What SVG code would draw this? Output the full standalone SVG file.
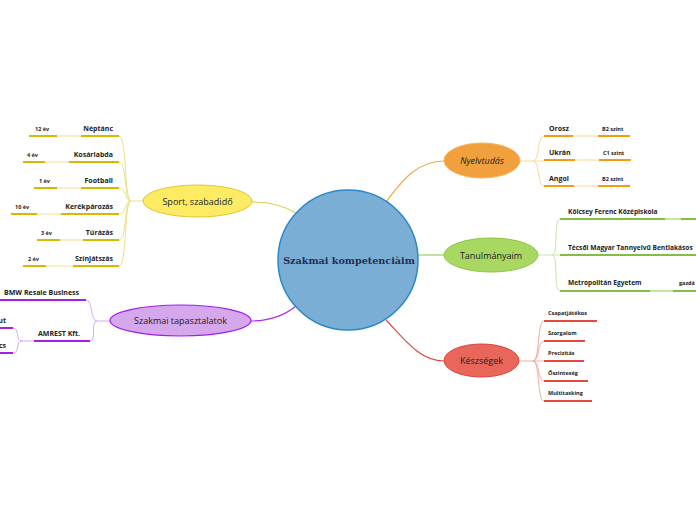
<svg xmlns="http://www.w3.org/2000/svg" width="696" height="520" viewBox="0 0 696 520">
<style>
.b{font-family:"Open Sans","Noto Sans",sans-serif;font-weight:700;fill:#222}
.c{font-size:7px}
.s{font-size:5.5px}
.k{font-size:6px}
.t{font-family:"Open Sans","Noto Sans",sans-serif;font-size:9px;fill:#222;text-anchor:middle}
.f{fill:none}
.yl{stroke:#d9b800;stroke-width:2}
.yc{stroke:#ece08a;stroke-width:1}
.ol{stroke:#f39c12;stroke-width:2}
.oc{stroke:#fcd49a;stroke-width:1}
.gl{stroke:#84bd45;stroke-width:2}
.gc{stroke:#c8e3a6;stroke-width:1}
.gc2{stroke:#c8e3a6;stroke-width:2}
.rl{stroke:#e5493d;stroke-width:2}
.rc{stroke:#f5aaa2;stroke-width:1}
.pl{stroke:#a51fe8;stroke-width:2}
.pc{stroke:#d9a8f3;stroke-width:1}
</style>
<rect width="696" height="520" fill="#fff"/>
<g id="connectors" class="f">
<path d="M252,202 C270,202 283,205 296,213" stroke="#e3cf55" stroke-width="1.2"/>
<path d="M386,202 C400,184 415,161 444,161" stroke="#f5a73c" stroke-width="1.2"/>
<path d="M418,255 L444,255" stroke="#9ccf5f" stroke-width="1.2"/>
<path d="M386,320 C405,340 420,361 444,361" stroke="#de4a3c" stroke-width="1.2"/>
<path d="M251,321 C270,321 285,315 296,306" stroke="#a52ae8" stroke-width="1.2"/>
</g>
<g id="center">
<circle cx="348" cy="260" r="70" fill="#7aaed5" stroke="#2b88c8" stroke-width="1.5"/>
<text x="349" y="264" text-anchor="middle" font-family="'DejaVu Serif','Noto Serif',serif" font-weight="700" font-size="9.6" fill="#1e2f50">Szakmai kompetenciàim</text>
</g>
<g id="sport">
<g class="f">
<path class="yc" d="M143,201 L131,201"/>
<path class="yc" d="M131,201 C124,201 127,136 119,136"/>
<path class="yc" d="M131,201 C124,201 127,162 119,162"/>
<path class="yc" d="M131,201 C124,201 127,188 119,188"/>
<path class="yc" d="M131,201 C124,201 127,214 119,214"/>
<path class="yc" d="M131,201 C124,201 127,240 119,240"/>
<path class="yc" d="M131,201 C124,201 127,266 119,266"/>
<path class="yc" d="M57,136 H81 M45,162 H69 M57,188 H81 M37,214 H61 M60,240 H83 M46,266 H73"/>
<path class="yl" d="M81,136 H119 M69,162 H119 M81,188 H119 M61,214 H119 M83,240 H119 M73,266 H119"/>
<path class="yl" d="M29,136 H57 M23,162 H45 M34,188 H57 M11,214 H37 M37,240 H60 M23,266 H46"/>
</g>
<ellipse cx="197.5" cy="201" rx="54.5" ry="16" fill="#fdeb63" stroke="#e2c62f" stroke-width="1"/>
<text class="t" x="197.5" y="204.5">Sport, szabadidő</text>
<g class="b c" text-anchor="end">
<text x="113" y="131">Néptánc</text>
<text x="113" y="157">Kosárlabda</text>
<text x="113" y="183">Football</text>
<text x="113" y="209">Kerékpározás</text>
<text x="113" y="235">Túrázás</text>
<text x="113" y="261">Színjátszás</text>
</g>
<g class="b s">
<text x="35" y="131">12 év</text>
<text x="27" y="157">4 év</text>
<text x="39" y="183">1 év</text>
<text x="15" y="209">10 év</text>
<text x="41" y="235">3 év</text>
<text x="28" y="261">2 év</text>
</g>
</g>
<g id="nyelvtudas">
<g class="f">
<path class="oc" d="M520,161 L533,161"/>
<path class="oc" d="M533,161 C540,161 537,136 544,136"/>
<path class="oc" d="M533,161 L544,161"/>
<path class="oc" d="M533,161 C540,161 537,186 544,186"/>
<path class="oc" d="M573,136 H598 M575,160 H599 M574,186 H598"/>
<path class="ol" d="M544,136 H573 M544,160 H575 M544,186 H574"/>
<path class="ol" d="M598,136 H630 M599,160 H631 M598,186 H630"/>
</g>
<ellipse cx="482" cy="160.5" rx="38" ry="17.5" fill="#f0a03c" stroke="#f7b65a" stroke-width="1"/>
<text class="t" x="482" y="164" font-style="italic">Nyelvtudás</text>
<g class="b c">
<text x="549" y="131">Orosz</text>
<text x="549" y="155">Ukrán</text>
<text x="549" y="181">Angol</text>
</g>
<g class="b s">
<text x="602" y="131">B2 szint</text>
<text x="603" y="155">C1 szint</text>
<text x="602" y="181">B2 szint</text>
</g>
</g>
<g id="tanulmanyaim">
<g class="f">
<path class="gc" d="M538,255 L552,255"/>
<path class="gc" d="M552,255 C559,255 553,219 560,219"/>
<path class="gc" d="M552,255 L560,255"/>
<path class="gc" d="M552,255 C559,255 553,291 560,291"/>
<path class="gl" d="M560,219 H665 M681,219 H696 M560,255 H696 M560,291 H650 M673,291 H696"/>
<path class="gc2" d="M665,219 H681 M650,291 H673"/>
</g>
<ellipse cx="491" cy="255" rx="47" ry="17" fill="#a9d862" stroke="#8cc63f" stroke-width="1"/>
<text class="t" x="491" y="258.5">Tanulmányaim</text>
<g class="b" font-size="6.6px">
<text x="568" y="214">Kölcsey Ferenc Középiskola</text>
<text x="568" y="250">Técsői Magyar Tannyelvű Bentlakásos</text>
<text x="568" y="285">Metropolitán Egyetem</text>
</g>
<text class="b s" x="679" y="285">gazdá</text>
</g>
<g id="keszsegek">
<g class="f">
<path class="rc" d="M519,361 L533,361"/>
<path class="rc" d="M533,361 C540,361 537,321 544,321"/>
<path class="rc" d="M533,361 C540,361 537,341 544,341"/>
<path class="rc" d="M533,361 L544,361"/>
<path class="rc" d="M533,361 C540,361 537,381 544,381"/>
<path class="rc" d="M533,361 C540,361 537,401 544,401"/>
<path class="rl" d="M544,321 H597 M544,341 H585 M544,361 H584 M544,381 H588 M544,401 H592"/>
</g>
<ellipse cx="481.5" cy="360.5" rx="37.5" ry="16.5" fill="#e8675a" stroke="#d9443a" stroke-width="1"/>
<text class="t" x="481.5" y="364">Készségek</text>
<g class="b s">
<text x="548" y="315">Csapatjátékos</text>
<text x="548" y="335">Szorgalom</text>
<text x="548" y="355">Precizitás</text>
<text x="548" y="375">Őszinteség</text>
<text x="548" y="395">Multitasking</text>
</g>
</g>
<g id="tapasztalatok">
<g class="f">
<path class="pc" d="M110,321 L97,321"/>
<path class="pc" d="M97,321 C90,321 93,300 86,300"/>
<path class="pc" d="M97,321 C90,321 97,341 90,341"/>
<path class="pc" d="M34,341 L22,341"/>
<path class="pc" d="M22,341 C15,341 20,328 13,328"/>
<path class="pc" d="M22,341 C15,341 20,353 13,353"/>
<path class="pl" d="M0,300 H86 M34,341 H90 M0,328 H13 M0,353 H13"/>
</g>
<ellipse cx="180.5" cy="320.5" rx="70.5" ry="15.5" fill="#d4a8ea" stroke="#a01ef0" stroke-width="1.2"/>
<text class="t" x="180.5" y="324">Szakmai tapasztalatok</text>
<g class="b c">
<text x="4" y="295">BMW Resale Business</text>
<text x="38" y="336">AMREST Kft.</text>
<text x="6" y="323" text-anchor="end">ut</text>
<text x="6" y="348" text-anchor="end">cs</text>
</g>
</g>
</svg>
